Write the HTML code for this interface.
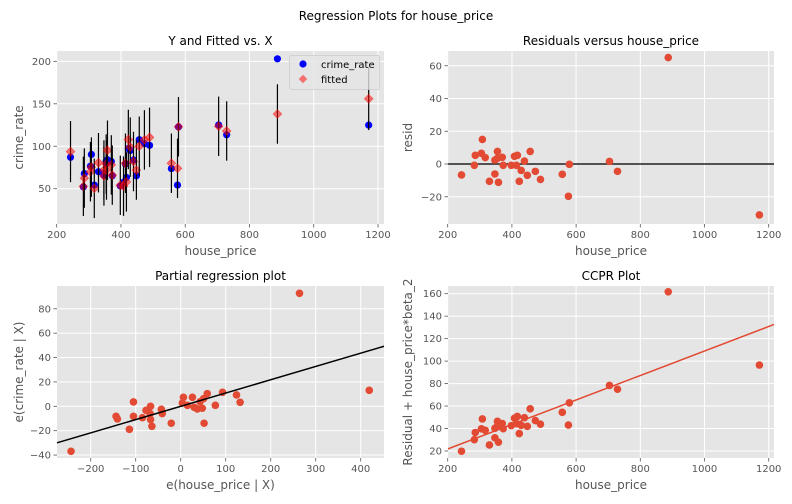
<!DOCTYPE html>
<html><head><meta charset="utf-8"><style>
html,body{margin:0;padding:0;background:#fff;}
svg{display:block;font-family:"DejaVu Sans","Liberation Sans",sans-serif;}
</style></head><body>
<svg id="fig" width="792" height="504" viewBox="0 0 792 504" xmlns="http://www.w3.org/2000/svg">
<text x="396" y="20" font-size="12" text-anchor="middle" fill="#000">Regression Plots for house_price</text>
</svg>
<script>
const price=[243,283,286,305,308,317,330,347,347,354,355,358,370,373,398,408,414,417,423,429,439,448,457,473,489,557,576,579,704,729,887,1171];
const resid=[-6.7,-0.8,5.3,6.5,15,3.9,-10.6,-6.1,2.4,3.3,7.7,-11.2,4.1,-0.8,-0.8,4.7,-0.8,5.3,-10.6,-3.9,1.8,-6.9,7.7,-4.5,-9.4,-6.3,-19.7,-0.2,1.6,-4.5,65,-31.1];
const fitted=[93.7,52.8,62.5,70,75.4,50.4,80.6,72,65,79,72,95.3,78,66,54,53,80,58,108,99,82,72,100,107.5,110.5,80,74,123,123.5,118,138,156];
const predHalf=[36,35,35,35,35,35,35,35,35,35,35,35,35,35,35,35,35,35,35,35,35,35,35,35,35,35,35,35,35,35,35,37];
const partX=[-243.7,-143.7,-140.7,-105,-105,-114,-85,-77,-67,-68,-67,-64,-43,-41,-21,3.7,6,15,26,30,37,43,48,51,52,59,77,93,124,132,264,419];
const partY=[-36.9,-8.2,-10.4,3.6,-8.2,-18.9,-9.3,-3.3,0,-6,-10.9,-16.4,-2.5,-6,-13.9,2.7,7.4,0.8,7.4,-0.8,-2.2,3.8,-1.6,6.3,-13.9,10.4,0.8,11.5,9.3,3.3,92.7,13.1];
const beta=0.109;
const xTicksPrice=[200,400,600,800,1000,1200];
const yTicks1=[50,100,150,200];
const yTicks2=[-20,0,20,40,60];
const xTicks3=[-200,-100,0,100,200,300,400];
const yTicks3=[-40,-20,0,20,40,60,80];
const yTicks4=[20,40,60,80,100,120,140,160];

const NS="http://www.w3.org/2000/svg";
const svg=document.getElementById('fig');
function el(tag,attrs,parent,text){const e=document.createElementNS(NS,tag);for(const k in attrs)e.setAttribute(k,attrs[k]);if(text!==undefined)e.textContent=text;(parent||svg).appendChild(e);return e;}

function panel(cfg){
  const g=el('g',{});
  
  
  const bg=el('rect',{x:cfg.l,y:cfg.t,width:cfg.r-cfg.l,height:cfg.b-cfg.t,fill:'#E5E5E5'},g);
  
  
  cfg.xt.forEach(v=>{const x=cfg.sx(v);
    el('line',{x1:x,x2:x,y1:cfg.t,y2:cfg.b,stroke:'#fff','stroke-width':1},g);
    el('line',{x1:x,x2:x,y1:cfg.b,y2:cfg.b+3.5,stroke:'#555','stroke-width':0.8},g);
    const t=el('text',{x:x,y:cfg.b+14,'font-size':10,'text-anchor':'middle',fill:'#555'},g,v<0?'\u2212'+(-v):String(v));
    
    
  });
  cfg.yt.forEach(v=>{const y=cfg.sy(v);
    el('line',{x1:cfg.l,x2:cfg.r,y1:y,y2:y,stroke:'#fff','stroke-width':1},g);
    el('line',{x1:cfg.l-3.5,x2:cfg.l,y1:y,y2:y,stroke:'#555','stroke-width':0.8},g);
    const t=el('text',{x:cfg.l-6,y:y+3.5,'font-size':10,'text-anchor':'end',fill:'#555'},g,v<0?'\u2212'+(-v):String(v));
    
    
  });
  const tt=el('text',{x:(cfg.l+cfg.r)/2,y:cfg.t-6,'font-size':12,'text-anchor':'middle',fill:'#000'},g,cfg.title);
  
  
  const xl=el('text',{x:(cfg.l+cfg.r)/2,y:cfg.b+31,'font-size':12,'text-anchor':'middle',fill:'#555'},g,cfg.xlabel);
  
  
  const cy=(cfg.t+cfg.b)/2;
  const yl=el('text',{x:cfg.ylx,y:cy,'font-size':12,'text-anchor':'middle',fill:'#555',transform:`rotate(-90 ${cfg.ylx} ${cy})`},g,cfg.ylabel);
  
  
  return g;
}

// Panel 1
const sx1=v=>56.7+(v-200)*0.3213, sy1=v=>188.7-(v-50)*0.849;
const g1=panel({name:'y-and-fitted-panel',l:57,r:384,t:51,b:224,sx:sx1,sy:sy1,xt:xTicksPrice,yt:yTicks1,title:'Y and Fitted vs. X',xlabel:'house_price',ylabel:'crime_rate',ylx:23});
price.forEach((p,i)=>{const c=fitted[i]+resid[i];
  const b=el('circle',{cx:sx1(p),cy:sy1(c),r:3.6,fill:'#0000ff'},g1);
  
  
});
price.forEach((p,i)=>{
  const l=el('line',{x1:sx1(p),x2:sx1(p),y1:sy1(fitted[i]-predHalf[i]),y2:sy1(fitted[i]+predHalf[i]),stroke:'#000','stroke-width':1.2},g1);
  
  
  const x=sx1(p),y=sy1(fitted[i]),d=4.3;
  const m=el('polygon',{points:`${x},${y-d} ${x+d},${y} ${x},${y+d} ${x-d},${y}`,fill:'rgba(255,0,0,0.5)',stroke:'rgba(255,0,0,0.5)','stroke-width':0.8},g1);
  
  
});
const lg=el('g',{},g1);


el('rect',{x:289.5,y:55.5,width:90,height:34,rx:2,fill:'#E5E5E5','fill-opacity':0.8,stroke:'#ccc','stroke-width':0.8},lg);
const le1=el('circle',{cx:303,cy:64,r:3.6,fill:'#0000ff'},lg);


el('text',{x:321,y:68,'font-size':10,fill:'#000'},lg,'crime_rate');
const le2=el('polygon',{points:'303,74.7 307.3,79 303,83.3 298.7,79',fill:'rgba(255,0,0,0.5)'},lg);


el('text',{x:321,y:83,'font-size':10,fill:'#000'},lg,'fitted');

// Panel 2
const sx2=v=>447.7+(v-200)*0.321, sy2=v=>164-v*1.6375;
const g2=panel({name:'residuals-panel',l:448,r:774,t:51,b:224,sx:sx2,sy:sy2,xt:xTicksPrice,yt:yTicks2,title:'Residuals versus house_price',xlabel:'house_price',ylabel:'resid',ylx:412});
const zl=el('line',{x1:448,x2:774,y1:sy2(0),y2:sy2(0),stroke:'#222','stroke-width':1.6},g2);


price.forEach((p,i)=>{
  const c=el('circle',{cx:sx2(p),cy:sy2(resid[i]),r:3.8,fill:'#E24A33'},g2);
  
  
});

// Panel 3
const sx3=v=>180.7+v*0.45, sy3=v=>406.3-v*1.219;
const g3=panel({name:'partial-regression-panel',l:57,r:384,t:286,b:458,sx:sx3,sy:sy3,xt:xTicks3,yt:yTicks3,title:'Partial regression plot',xlabel:'e(house_price | X)',ylabel:'e(crime_rate | X)',ylx:23});
partX.forEach((v,i)=>{
  const c=el('circle',{cx:sx3(v),cy:sy3(partY[i]),r:3.8,fill:'#E24A33'},g3);
  
  
});
const x3a=(57-180.7)/0.45, x3b=(384-180.7)/0.45;
const pl=el('line',{x1:sx3(x3a),y1:sy3(beta*x3a),x2:sx3(x3b),y2:sy3(beta*x3b),stroke:'#000','stroke-width':1.5},g3);



// Panel 4
const sx4=sx2, sy4=v=>451-(v-20)*1.1236;
const g4=panel({name:'ccpr-panel',l:448,r:774,t:286,b:458,sx:sx4,sy:sy4,xt:xTicksPrice,yt:yTicks4,title:'CCPR Plot',xlabel:'house_price',ylabel:'Residual + house_price*beta_2',ylx:412});
price.forEach((p,i)=>{
  const c=el('circle',{cx:sx4(p),cy:sy4(resid[i]+beta*p),r:3.8,fill:'#E24A33'},g4);
  
  
});
const xa=(448-447.7)/0.321+200, xb=(774-447.7)/0.321+200;
const cl=el('line',{x1:sx4(xa),y1:sy4(beta*xa),x2:sx4(xb),y2:sy4(beta*xb),stroke:'#E24A33','stroke-width':1.5},g4);


</script>
</body></html>
